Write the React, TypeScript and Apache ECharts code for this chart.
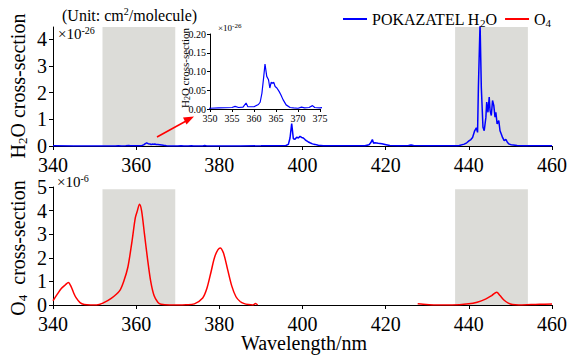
import React, { useEffect, useRef } from "react";
import * as echarts from "echarts";

// ---------- data ----------
const h2oWavelength = [
  340, 345, 350, 352, 355, 355.7, 356.5, 357.5, 358.2, 358.6, 360, 361, 361.4, 361.8, 362.2, 362.5, 362.9,
  363.3, 363.6, 363.9, 364.2, 364.5, 364.8, 365.2, 365.7, 366.1, 366.6, 367.3, 368.2, 369, 370, 370.8,
  371.5, 372.5, 373.3, 373.8, 375, 376, 376.5, 377, 380, 385, 390, 394, 396, 396.6, 397.0, 397.4, 397.8,
  398.2, 398.6, 399.0, 399.4, 399.8, 400.2, 400.6, 400.9, 401.4, 401.8, 402.4, 403.0, 403.8, 405, 408,
  412, 415, 416.0, 416.4, 416.8, 417.1, 417.4, 418.2, 419.1, 420.1, 421, 423, 425.5, 426.1, 426.7, 430,
  434, 437, 437.7, 438.9, 439.5, 440.1, 440.5, 440.9, 441.4, 441.8, 442.1, 442.3, 442.7, 443.0, 443.4,
  443.7, 444.1, 444.3, 444.6, 444.9, 445.1, 445.4, 445.7, 446.0, 446.3, 446.5, 446.8, 447.2, 447.5,
  447.8, 448.1, 448.5, 448.9, 449.3, 449.7, 450.2, 451.6, 453, 455, 457, 460,
];
const h2oCrossSection = [
  0.005, 0.003, 0.002, 0.003, 0.004, 0.007, 0.004, 0.005, 0.016, 0.006, 0.006, 0.012, 0.018, 0.042, 0.085,
  0.12, 0.087, 0.078, 0.056, 0.071, 0.069, 0.071, 0.06, 0.056, 0.047, 0.038, 0.025, 0.011, 0.004, 0.003,
  0.002, 0.005, 0.003, 0.004, 0.009, 0.004, 0.003, 0.004, 0.015, 0.004, 0.003, 0.004, 0.005, 0.008, 0.02,
  0.06, 0.3, 0.84, 0.27, 0.25, 0.33, 0.3, 0.36, 0.32, 0.3, 0.24, 0.2, 0.15, 0.12, 0.08, 0.06, 0.03, 0.012,
  0.006, 0.005, 0.01, 0.05, 0.12, 0.24, 0.1, 0.12, 0.1, 0.08, 0.05, 0.02, 0.008, 0.02, 0.04, 0.015, 0.006,
  0.008, 0.01, 0.02, 0.07, 0.12, 0.2, 0.24, 0.32, 0.57, 0.68, 0.51, 2.2, 4.6, 2.2, 0.7, 0.57, 1.07, 1.64,
  1.26, 1.83, 1.33, 1.14, 1.7, 1.52, 1.08, 1.26, 0.83, 0.95, 0.57, 0.45, 0.32, 0.2, 0.25, 0.13, 0.07, 0.05,
  0.015, 0.008, 0.01, 0.006, 0.01,
];

const o4Wavelength = [
  340, 341, 342, 343, 343.7, 344.3, 345, 345.5, 346.5, 347.5, 349, 350.5, 352, 354, 356, 357, 358, 359,
  359.8, 360.3, 360.8, 361.3, 362, 362.7, 363.5, 364.3, 365.2, 366, 368, 370, 372, 374, 376, 377, 378,
  379, 380.2, 381, 382, 383, 384, 385, 386, 387, 388, 388.7, 389.2, 389.5, 427.7, 429, 432, 436, 440,
  442, 444, 445.5, 446.7, 447.5, 448.5, 449.5, 450.5, 452, 455, 457, 460,
];
const o4CrossSection = [
  0.18, 0.45, 0.7, 0.86, 0.95, 0.8, 0.5, 0.32, 0.1, 0.02, 0, 0, 0.08, 0.28, 0.6, 1.0, 1.6, 2.7, 3.7, 4.0,
  4.27, 4.0, 3.0, 2.0, 1.0, 0.4, 0.12, 0.03, 0, 0, 0.01, 0.05, 0.3, 0.7, 1.4, 2.1, 2.42, 2.2, 1.5, 0.8,
  0.35, 0.15, 0.06, 0.02, 0, 0.06, 0.0, null, 0.05, 0.03, 0, 0, 0.05, 0.12, 0.25, 0.4, 0.54, 0.4, 0.2,
  0.08, 0.02, 0, 0.02, 0.03, 0.04,
];

const shadedBands = [
  [351.9, 369.4],
  [436.7, 454.2],
];
const mainTicksX = [340, 360, 380, 400, 420, 440, 460];
const h2oTicksY = [0, 1, 2, 3, 4];
const o4TicksY = [0, 1, 2, 3, 4, 5];
const insetTicksX = [350, 355, 360, 365, 370, 375];
const insetTicksY = [0, 0.05, 0.1, 0.15, 0.2];

const FONT = "Liberation Serif";
const BLUE = "#0000ff";
const RED = "#ff0000";
const BAND = "#dcdcd8";

function pairs(xs: number[], ys: (number | null)[]) {
  return xs.map((x, i) => [x, ys[i]]);
}

const axisLine = { show: true, onZero: false, lineStyle: { color: "#000", width: 1 } };
const tick = (len: number, customValues?: number[]) => ({
  show: true,
  length: len,
  lineStyle: { color: "#000", width: 1 },
  ...(customValues ? { customValues } : {}),
});
const label = (fontSize: number, margin: number, fmt: (v: number) => string, extra: any = {}) => ({
  color: "#000",
  fontSize,
  fontFamily: FONT,
  margin,
  formatter: (v: number) => "{t|" + fmt(v) + "}",
  rich: { t: { fontSize, fontFamily: FONT, color: "#000" } },
  ...extra,
});
const plain = (v: number) => String(v);

export default function App() {
  const ref = useRef<HTMLDivElement>(null);
  useEffect(() => {
    const chart = echarts.init(ref.current!, null, { renderer: "svg" });
    const h2oData = pairs(h2oWavelength, h2oCrossSection);
    const o4Data = pairs(o4Wavelength, o4CrossSection);

    const mainX = (gridIndex: number) => ({
      type: "value",
      gridIndex,
      min: mainTicksX[0],
      max: mainTicksX[mainTicksX.length - 1],
      interval: 20,
      axisLine,
      axisTick: tick(4),
      axisLabel: label(20, 9, plain),
      splitLine: { show: false },
    });

    const sup = { fontSize: 10, fontFamily: FONT, color: "#000", lineHeight: 6, verticalAlign: "top" };
    const sub = (fs: number) => ({ fontSize: fs, fontFamily: FONT, color: "#000", lineHeight: 6, verticalAlign: "bottom" });
    const norm = (fs: number) => ({ fontSize: fs, fontFamily: FONT, color: "#000", lineHeight: fs + 2 });

    const option: any = {
      animation: false,
      backgroundColor: "#fff",
      textStyle: { fontFamily: FONT, color: "#000" },
      grid: [
        { left: 53, top: 27, width: 502, height: 119 },
        { left: 53, top: 187, width: 502, height: 118 },
        { left: 210, top: 34, width: 110, height: 75 },
      ],
      legend: {
        left: 338,
        top: 6,
        icon: "rect",
        itemWidth: 24,
        itemHeight: 2,
        itemGap: 8,
        data: ["POKAZATEL H2O", "O4"],
        formatter: (name: string) =>
          name === "O4" ? "{n|O}{s|4}" : "{n|POKAZATEL H}{s|2}{n|O}",
        textStyle: {
          color: "#000",
          fontFamily: FONT,
          fontSize: 16,
          rich: { n: norm(16), s: sub(11) },
        },
      },
      xAxis: [
        mainX(0),
        mainX(1),
        {
          type: "value",
          gridIndex: 2,
          min: insetTicksX[0],
          max: insetTicksX[insetTicksX.length - 1],
          interval: 5,
          axisLine,
          axisTick: tick(3),
          axisLabel: label(10, 4, plain),
          splitLine: { show: false },
        },
      ],
      yAxis: [
        {
          type: "value",
          gridIndex: 0,
          min: 0,
          max: 4.45,
          axisLine,
          axisTick: tick(4, h2oTicksY),
          axisLabel: label(20, 6, plain, { customValues: h2oTicksY }),
          splitLine: { show: false },
        },
        {
          type: "value",
          gridIndex: 1,
          min: 0,
          max: 5,
          interval: 1,
          axisLine,
          axisTick: tick(4, o4TicksY),
          axisLabel: label(20, 6, plain, { customValues: o4TicksY }),
          splitLine: { show: false },
        },
        {
          type: "value",
          gridIndex: 2,
          min: insetTicksY[0],
          max: insetTicksY[insetTicksY.length - 1],
          interval: 0.05,
          axisLine,
          axisTick: tick(3),
          axisLabel: label(10, 4, (v: number) => v.toFixed(2)),
          splitLine: { show: false },
        },
      ],
      series: [
        {
          name: "bandsTop",
          type: "line",
          xAxisIndex: 0,
          yAxisIndex: 0,
          data: [],
          z: 1,
          silent: true,
          markArea: {
            silent: true,
            itemStyle: { color: BAND },
            data: shadedBands.map(([a, b]) => [{ xAxis: a }, { xAxis: b }]),
          },
        },
        {
          name: "bandsBottom",
          type: "line",
          xAxisIndex: 1,
          yAxisIndex: 1,
          data: [],
          z: 1,
          silent: true,
          markArea: {
            silent: true,
            itemStyle: { color: BAND },
            data: shadedBands.map(([a, b]) => [
              { xAxis: a, yAxis: 0 },
              { xAxis: b, yAxis: 4.9 },
            ]),
          },
        },
        {
          name: "POKAZATEL H2O",
          type: "line",
          xAxisIndex: 0,
          yAxisIndex: 0,
          data: h2oData,
          showSymbol: false,
          symbol: "none",
          color: BLUE,
          lineStyle: { color: BLUE, width: 1.5 },
          z: 3,
          clip: true,
        },
        {
          name: "POKAZATEL H2O",
          type: "line",
          xAxisIndex: 2,
          yAxisIndex: 2,
          data: h2oData,
          showSymbol: false,
          symbol: "none",
          color: BLUE,
          lineStyle: { color: BLUE, width: 1.2 },
          z: 3,
          clip: true,
        },
        {
          name: "O4",
          type: "line",
          xAxisIndex: 1,
          yAxisIndex: 1,
          data: o4Data,
          showSymbol: false,
          symbol: "none",
          connectNulls: false,
          smooth: 0.3,
          color: RED,
          lineStyle: { color: RED, width: 1.5 },
          z: 3,
        },
      ],
      graphic: [
        {
          type: "text",
          x: 18,
          y: 86,
          z: 10,
          rotation: Math.PI / 2,
          style: {
            text: "{n|H}{s|2}{n|O cross-section}",
            textAlign: "center",
            textVerticalAlign: "middle",
            rich: { n: norm(20), s: sub(13) },
          },
        },
        {
          type: "text",
          x: 18,
          y: 248,
          z: 10,
          rotation: Math.PI / 2,
          style: {
            text: "{n|O}{s|4}{n|  cross-section}",
            textAlign: "center",
            textVerticalAlign: "middle",
            rich: { n: norm(20), s: sub(13) },
          },
        },
        {
          type: "text",
          x: 185,
          y: 68,
          z: 10,
          rotation: Math.PI / 2,
          style: {
            text: "{n|H}{s|2}{n|O cross-section}",
            textAlign: "center",
            textVerticalAlign: "middle",
            rich: { n: norm(11), s: sub(8) },
          },
        },
        {
          type: "text",
          x: 62,
          y: 15,
          z: 10,
          style: {
            text: "{n|(Unit: cm}{p|2}{n|/molecule)}",
            textVerticalAlign: "middle",
            rich: { n: norm(16), p: sup },
          },
        },
        {
          type: "text",
          x: 58,
          y: 34,
          z: 10,
          style: {
            text: "{n|×10}{p|-26}",
            textVerticalAlign: "middle",
            rich: { n: norm(15), p: sup },
          },
        },
        {
          type: "text",
          x: 57,
          y: 182,
          z: 10,
          style: {
            text: "{n|×10}{p|-6}",
            textVerticalAlign: "middle",
            rich: { n: norm(15), p: sup },
          },
        },
        {
          type: "text",
          x: 218,
          y: 28,
          z: 10,
          style: {
            text: "{n|×10}{p|-26}",
            textVerticalAlign: "middle",
            rich: { n: norm(9), p: { ...sup, fontSize: 7, lineHeight: 4 } },
          },
        },
        {
          type: "text",
          x: 304,
          y: 343,
          z: 10,
          style: {
            text: "Wavelength/nm",
            textAlign: "center",
            textVerticalAlign: "middle",
            fontSize: 20,
            fontFamily: FONT,
            fill: "#000",
          },
        },
        {
          type: "line",
          z: 10,
          shape: { x1: 157, y1: 137, x2: 187, y2: 120.5 },
          style: { stroke: RED, lineWidth: 1.5 },
        },
        {
          type: "polygon",
          z: 10,
          shape: { points: [[194, 116.5], [186.5, 124.5], [183, 117.5]] },
          style: { fill: RED },
        },
      ],
    };
    chart.setOption(option);
    return () => chart.dispose();
  }, []);
  return (
    <div
      ref={ref}
      style={{ position: "fixed", left: 0, top: 0, width: 570, height: 355, background: "#fff" }}
    />
  );
}
